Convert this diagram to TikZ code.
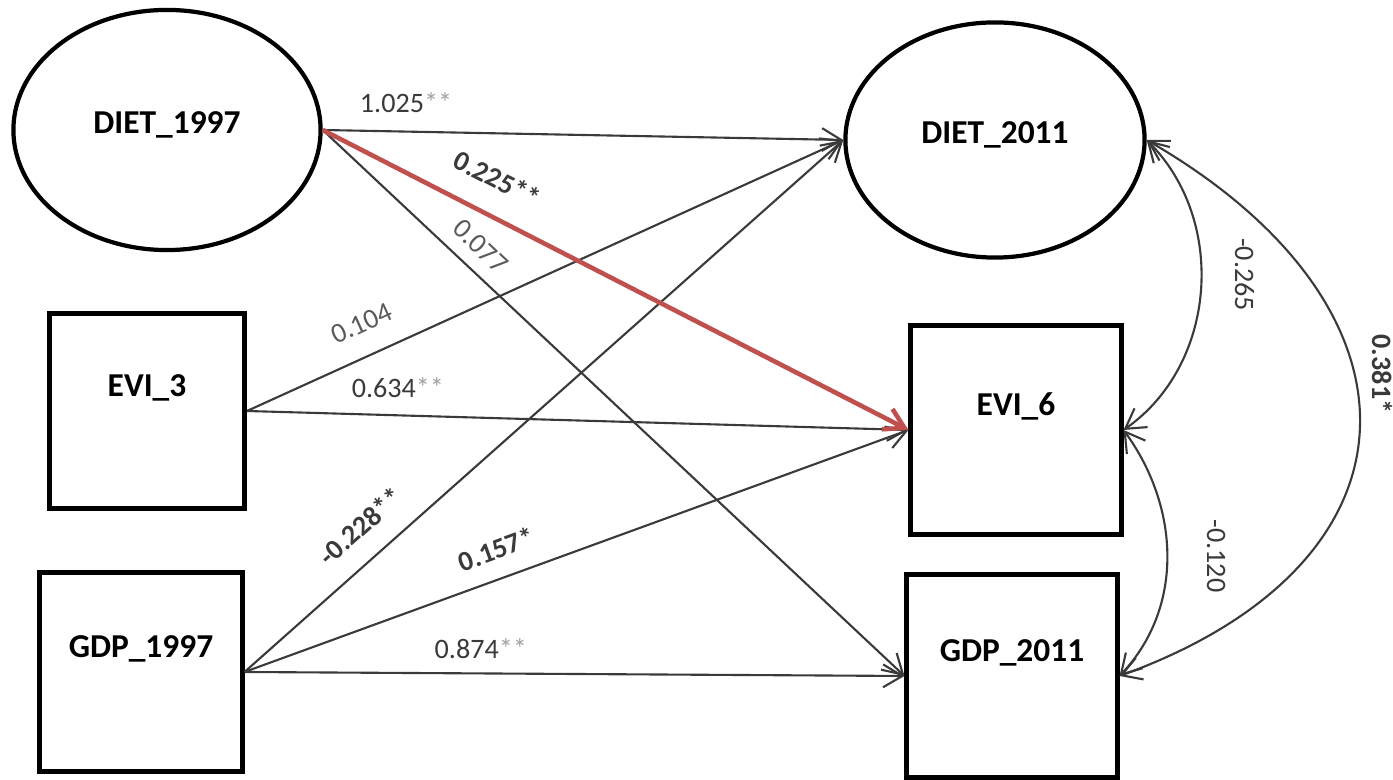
\documentclass[tikz,border=0pt]{standalone}
\usepackage{fontspec}
\setmainfont{Carlito}
\usepackage{tikz}
\usetikzlibrary{shapes.geometric,arrows.meta}
\definecolor{pathred}{HTML}{C0504D}
\definecolor{pathgray}{HTML}{3A3A3A}
\definecolor{lightgray}{HTML}{5A5A5A}
\definecolor{stargray}{HTML}{A0A0A0}

\begin{document}
\begin{tikzpicture}[x=0.01cm, y=-0.01cm,
  latent/.style={ellipse, draw, line width=1.2pt, inner sep=0pt,
    font=\fontsize{9.5}{11}\selectfont\bfseries, text height=7pt, text depth=5pt},
  observed/.style={rectangle, draw, line width=1.4pt, inner sep=0pt,
    font=\fontsize{9.5}{11}\selectfont\bfseries, text height=7pt, text depth=15pt},
  effect/.style={draw=pathgray, line width=0.6pt, -{Straight Barb[length=5.5pt,width=6.5pt]}},
  covar/.style={draw=pathgray, line width=0.6pt,
    {Straight Barb[length=5.5pt,width=6.5pt]}-{Straight Barb[length=5.5pt,width=6.5pt]}},
  coef/.style={font=\fontsize{8}{9}\selectfont, text=pathgray, inner sep=0pt, anchor=south}]
  \useasboundingbox (0,0) rectangle (1393,780);

  % variables, 1997 on the left, 2011 on the right
  \node[latent, minimum width=3.07cm, minimum height=2.40cm] (diet97) at (167,130) {DIET\_1997};
  \node[observed, minimum width=1.95cm, minimum height=1.94cm] (evi3) at (147,411) {EVI\_3};
  \node[observed, minimum width=2.02cm, minimum height=1.99cm] (gdp97) at (141,672) {GDP\_1997};
  \node[latent, minimum width=2.99cm, minimum height=2.35cm] (diet11) at (995,140) {DIET\_2011};
  \node[observed, minimum width=2.10cm, minimum height=2.09cm] (evi6) at (1016,430) {EVI\_6};
  \node[observed, minimum width=2.10cm, minimum height=2.02cm] (gdp11) at (1012,676) {GDP\_2011};

  % paths
  \draw[effect] (diet97.east) -- node[coef, pos=.16, outer sep=.19cm] {1.025{\color{stargray}**}} (diet11.west);
  \draw[effect] (diet97.east) -- node[coef, pos=.244, sloped, outer sep=.14cm, text=lightgray] {0.077} (gdp11.west);
  \draw[effect] (evi3.east) -- node[coef, pos=.215, sloped, outer sep=.23cm, text=lightgray] {0.104} (diet11.west);
  \draw[effect] (evi3.east) -- node[coef, pos=.228, outer sep=.18cm] {0.634{\color{stargray}**}} (evi6.west);
  \draw[effect] (gdp97.east) -- node[coef, pos=.229, sloped, outer sep=.22cm, font=\fontsize{8}{9}\selectfont\bfseries] {-0.228**} (diet11.west);
  \draw[effect] (gdp97.east) -- node[coef, pos=.394, sloped, outer sep=.19cm, font=\fontsize{8}{9}\selectfont\bfseries] {0.157*} (evi6.west);
  \draw[effect] (gdp97.east) -- node[coef, pos=.358, outer sep=.15cm] {0.874{\color{stargray}**}} (gdp11.west);
  \draw[effect, draw=pathred, line width=1.3pt] (diet97.east) -- node[coef, pos=.27, sloped, outer sep=.26cm, font=\fontsize{8}{9}\selectfont\bfseries] {0.225**} (evi6.west);

  % covariances
  \draw[covar] (diet11.east) .. controls +(81,81) and +(93,-65) .. node[coef, pos=.45, rotate=-90, outer sep=.34cm] {-0.265} (evi6.east);
  \draw[covar] (evi6.east) .. controls +(56,77) and +(65,-69) .. node[coef, pos=.5, rotate=-90, outer sep=.40cm] {-0.120} (gdp11.east);
  \draw[covar] (diet11.east) .. controls +(289,167) and +(314,-114) .. node[coef, pos=.41, rotate=-90, outer sep=.18cm, font=\fontsize{8}{9}\selectfont\bfseries] {0.381*} (gdp11.east);
\end{tikzpicture}
\end{document}
